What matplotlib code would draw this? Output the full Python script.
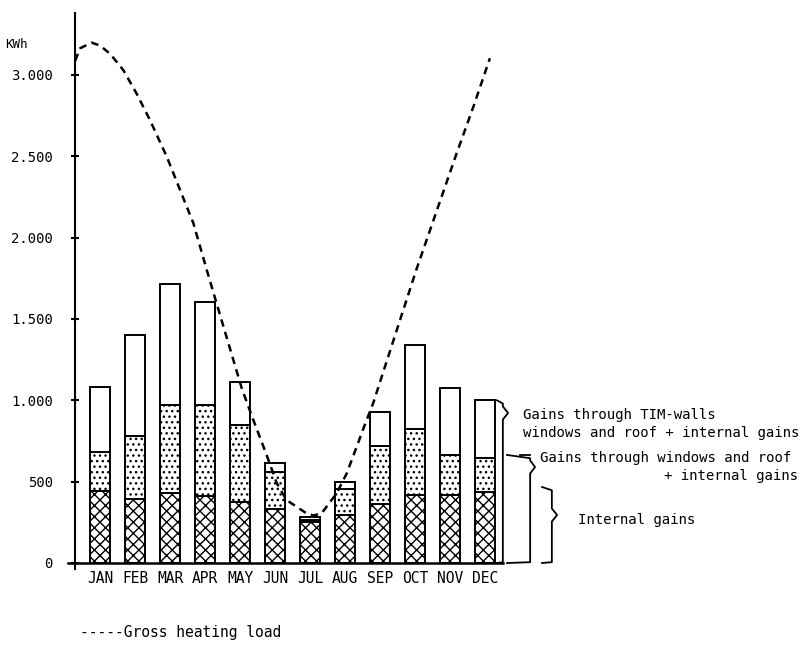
import matplotlib.pyplot as plt

months = ["JAN", "FEB", "MAR", "APR", "MAY", "JUN",
          "JUL", "AUG", "SEP", "OCT", "NOV", "DEC"]

# bar levels (kWh, cumulative from 0)
internal_gains = [440, 394, 430, 410, 375, 334, 250, 296, 364, 419, 419, 434]
windows_level = [680, 782, 972, 972, 850, 557, 265, 454, 722, 822, 665, 644]
tim_level = [1081, 1402, 1715, 1606, 1115, 615, 285, 495, 925, 1340, 1075, 1000]

# gross heating load (x in month index units)
load_x = [-0.71, -0.57, -0.24, 0.0, 0.29, 0.67, 1.05, 1.43, 1.91, 2.29, 2.67,
          3.05, 3.33, 4.05, 4.38, 4.76, 5.05, 5.33, 5.9, 6.1, 6.33, 6.76,
          7.05, 7.62, 7.81, 8.48, 9.05, 9.71, 10.19, 10.67, 11.14]
load_kwh = [3086, 3163, 3198, 3180, 3129, 3028, 2883, 2721, 2496, 2291, 2087,
            1801, 1596, 1074, 879, 664, 491, 387, 305, 292, 305, 428,
            551, 880, 985, 1432, 1810, 2220, 2518, 2805, 3102]

yticks = [0, 500, 1000, 1500, 2000, 2500, 3000]
ytick_labels = ["0", "500", "1.000", "1.500", "2.000", "2.500", "3.000"]

plt.rcParams['font.family'] = ['DejaVu Sans Mono']
plt.rcParams['hatch.linewidth'] = 1.0

fig = plt.figure(figsize=(8.09, 6.48), dpi=100)
ax = fig.add_axes([75 / 809, 85 / 648, 734 / 809, 550 / 648])

x = list(range(len(months)))
mid = [w - i for w, i in zip(windows_level, internal_gains)]
top = [t - w for t, w in zip(tim_level, windows_level)]

bw = 0.56
ax.bar(x, internal_gains, width=bw, color='white', edgecolor='black',
       hatch='xxx', linewidth=1.4)
ax.bar(x, mid, bottom=internal_gains, width=bw, color='white',
       edgecolor='black', hatch='...', linewidth=1.4)
ax.bar(x, top, bottom=windows_level, width=bw, color='white',
       edgecolor='black', linewidth=1.4)

ax.plot(load_x, load_kwh, color='black', lw=1.8, ls=(0, (3, 2.2)),
        clip_on=False)

ax.set_xlim(-25 / 35, 709 / 35)
ax.set_ylim(0, 3380)

for s in ['top', 'right', 'bottom']:
    ax.spines[s].set_visible(False)
ax.spines['left'].set_linewidth(1.5)

# baseline and axis overhang
ax.plot([-0.91, 11.5], [0, 0], color='black', lw=1.8, clip_on=False)
ax.plot([-25 / 35, -25 / 35], [-35, 0], color='black', lw=1.5, clip_on=False)

ax.set_yticks(yticks)
ax.set_yticklabels(ytick_labels)
ax.tick_params(axis='y', direction='inout', length=6, width=1.5, pad=13,
               labelsize=10)
ax.set_xticks(x)
ax.set_xticklabels(months)
ax.tick_params(axis='x', length=0, pad=6, labelsize=10.5)


def brace(x0, xv, xc, y0, y1, yc):
    ax.plot([x0, xv, xv, xc, xv, xv, x0],
            [y1, y1 - 20, yc + 40, yc, yc - 40, y0 + 5, y0],
            color='black', lw=1.3, clip_on=False)


brace(11.34, 11.51, 11.66, 0, 1000, 922)
brace(11.63, 12.29, 12.43, 0, 664, 590)
ax.plot([12.0, 12.29], [664, 664], color='black', lw=1.3, clip_on=False)
brace(12.63, 12.91, 13.06, 0, 467, 295)

tkw = dict(fontsize=10.1, va='center', clip_on=False)
ax.text(12.09, 910, "Gains through TIM-walls", ha='left', **tkw)
ax.text(12.09, 799, "windows and roof + internal gains", ha='left', **tkw)
ax.text(12.57, 645, "Gains through windows and roof", ha='left', **tkw)
ax.text(19.95, 535, "+ internal gains", ha='right', **tkw)
ax.text(13.66, 264, "Internal gains", ha='left', **tkw)

fig.text(5 / 809, 1 - 45 / 648, "KWh", ha='left', va='center', fontsize=9)
fig.text(80 / 809, 1 - 632 / 648, "-----Gross heating load", ha='left',
         va='center', fontsize=10.5)

fig.savefig("out.png", dpi=100)
